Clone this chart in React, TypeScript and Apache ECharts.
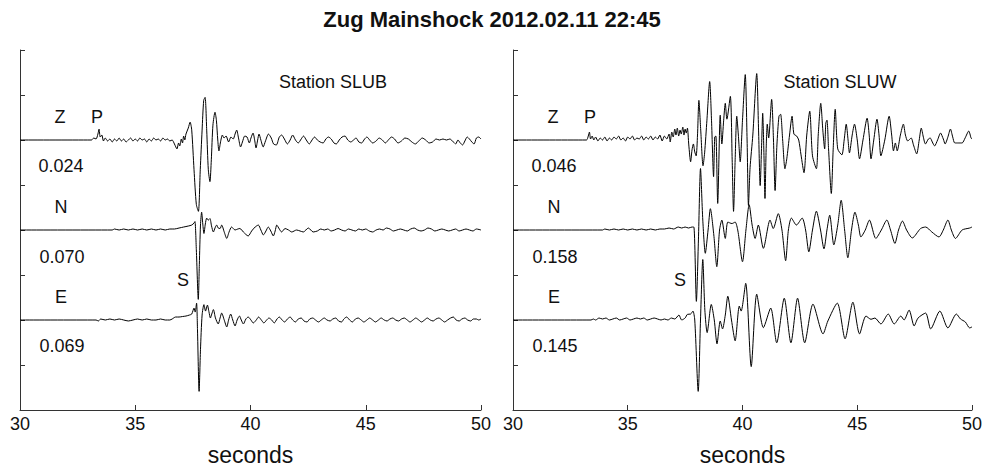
import React, { useEffect, useRef } from "react";
import * as echarts from "echarts";

// Time axis (seconds) and trace layout
const xTicks = [30, 35, 40, 45, 50];
const traceOffsets = { Z: 6, N: 4, E: 2 };
const AMP_UNIT = 45.4; // amplitude units per y tick

// Station SLUB traces: [time s, relative amplitude]
const slubZ: [number, number][] = [[30,0],[33.1,0],[33.2,2],[33.3,1],[33.38,6],[33.43,11],[33.48,3],[33.55,5],[33.62,-1],[33.7,2],[33.8,-1],[33.9,1],[34.0,-2],[34.1,1],[34.2,-1],[34.3,2],[34.4,-1],[34.5,1],[34.6,-2],[34.7,0],[34.8,2],[34.9,-1],[35.0,1],[35.1,-1],[35.2,2],[35.3,0],[35.4,1],[35.5,-2],[35.6,1],[35.7,-1],[35.8,2],[35.9,0],[36.0,1],[36.1,-1],[36.2,2],[36.3,0],[36.4,1],[36.5,-1],[36.6,0],[36.7,-4],[36.81,-9],[36.88,-3],[36.93,-6],[37.0,1],[37.05,-3],[37.1,4],[37.15,0],[37.2,6],[37.3,12],[37.38,18],[37.45,10],[37.55,-30],[37.65,-65],[37.74,-72],[37.82,-30],[37.9,10],[37.97,40],[38.03,43],[38.1,10],[38.17,-30],[38.24,-42],[38.3,-20],[38.37,15],[38.46,28],[38.52,20],[38.58,0],[38.63,-11],[38.7,-2],[38.78,5],[38.85,2],[38.94,4],[39.05,-2],[39.15,3],[39.25,1],[39.33,6],[39.4,10],[39.48,2],[39.57,-7],[39.65,-2],[39.75,4],[39.85,3],[39.95,-3],[40.02,2],[40.11,7],[40.18,0],[40.24,-8],[40.31,0],[40.37,6],[40.45,0],[40.55,-7],[40.65,-1],[40.78,6],[40.9,2],[41.0,-4],[41.12,-5],[41.25,3],[41.35,5],[41.47,1],[41.6,-4],[41.72,0],[41.83,5],[41.95,0],[42.07,-3],[42.2,1],[42.3,4],[42.42,0],[42.55,-4],[42.67,0],[42.78,3],[42.9,0],[43.02,-2],[43.15,-3],[43.27,1],[43.38,3],[43.5,1],[43.62,-3],[43.72,-4],[43.85,0],[43.97,3],[44.1,4],[44.22,0],[44.35,-2],[44.47,0],[44.58,2],[44.7,-2],[44.82,-3],[44.95,1],[45.05,3],[45.17,0],[45.3,-3],[45.45,-1],[45.58,2],[45.72,0],[45.85,-3],[45.98,0],[46.12,3],[46.25,1],[46.4,-3],[46.55,-1],[46.7,2],[46.85,1],[47.0,-2],[47.15,-4],[47.3,-1],[47.45,2],[47.6,0],[47.75,-3],[47.9,-2],[48.05,1],[48.2,0],[48.35,1],[48.5,0],[48.65,1],[48.8,-2],[48.9,-4],[49.0,0],[49.1,-3],[49.2,-5],[49.3,-1],[49.4,3],[49.5,1],[49.6,-2],[49.7,-4],[49.8,2],[49.9,3],[50,1]];

const slubN: [number, number][] = [[30,0],[34.0,0],[34.1,1],[34.3,0],[34.5,1],[34.7,0],[34.9,1],[35.1,0],[35.3,1],[35.5,0],[35.7,1],[35.9,0],[36.1,1],[36.3,0],[36.5,1],[36.7,1],[36.9,2],[37.1,3],[37.3,4],[37.45,5],[37.55,7],[37.59,8.5],[37.65,-20],[37.735,-70],[37.78,-35],[37.83,5],[37.88,18],[37.93,6],[37.98,-3.5],[38.04,6],[38.1,12],[38.17,10],[38.24,11.5],[38.31,4],[38.39,-2],[38.46,2],[38.53,5],[38.6,2],[38.68,1.5],[38.75,5],[38.86,-2],[38.97,-8.5],[39.07,-2],[39.18,3],[39.33,0],[39.45,1],[39.54,1.5],[39.62,0],[39.69,-2],[39.9,-6],[40.05,-1],[40.2,3],[40.34,5],[40.45,0],[40.56,-5],[40.67,-1],[40.77,3],[40.88,-1],[40.99,-6],[41.07,-1],[41.14,5],[41.25,1],[41.35,-2],[41.5,1.5],[41.65,0],[41.79,-2],[42.0,0],[42.15,-1],[42.29,-2],[42.51,2],[42.72,-2],[42.9,-1],[43.05,1],[43.2,0],[43.35,1],[43.5,-1],[43.65,0],[43.8,1.5],[43.95,0],[44.1,-1],[44.25,1],[44.4,0],[44.55,-1],[44.7,1],[44.85,0],[45.0,1],[45.15,-1],[45.3,-2],[45.45,0],[45.6,1],[45.75,0],[45.9,2],[46.05,1],[46.2,-1],[46.35,0],[46.5,1],[46.65,0],[46.8,-1],[46.95,1],[47.1,2],[47.25,0],[47.4,-1],[47.55,0],[47.7,2],[47.85,1],[48.0,-1],[48.15,0],[48.3,1],[48.45,0],[48.6,-1],[48.75,0],[48.9,1],[49.05,-1],[49.2,0],[49.35,1],[49.5,0],[49.65,-1],[49.8,1],[50,0]];

const slubE: [number, number][] = [[30,0],[33.3,0],[33.4,-1],[33.5,1],[33.7,0],[33.9,1],[34.1,0],[34.3,1],[34.5,0],[34.7,-1],[34.9,0],[35.1,1],[35.3,0],[35.5,1],[35.7,0],[35.9,0],[36.1,1],[36.3,0],[36.5,0],[36.6,1],[36.75,3],[36.9,3],[37.05,3.5],[37.2,4],[37.35,5],[37.45,6],[37.55,12],[37.6,8],[37.66,17],[37.7,-10],[37.77,-72],[37.83,-30],[37.9,5],[37.98,15.5],[38.05,9],[38.13,15],[38.2,8],[38.26,2],[38.32,6],[38.39,10.5],[38.48,2],[38.6,-4],[38.68,2],[38.75,7],[38.86,0],[38.97,-7],[39.05,0],[39.14,6],[39.23,0],[39.33,-6],[39.42,0],[39.52,4],[39.6,0],[39.69,-4],[39.8,1],[39.9,3],[40.02,0],[40.12,-3],[40.25,0],[40.35,3],[40.47,0],[40.58,-3],[40.7,0],[40.8,2],[40.92,0],[41.03,-3],[41.15,1],[41.25,3],[41.37,0],[41.48,-2],[41.6,1],[41.72,3],[41.83,0],[41.95,-2],[42.07,1],[42.2,2],[42.32,-1],[42.45,-2],[42.57,1],[42.7,2],[42.82,0],[42.95,-2],[43.07,0],[43.2,2],[43.32,0],[43.45,-1],[43.57,1],[43.7,2],[43.82,-1],[43.95,-2],[44.05,1],[44.17,3],[44.3,0],[44.42,-2],[44.55,1],[44.67,2],[44.8,0],[44.92,-2],[45.05,0],[45.17,2],[45.3,0],[45.42,-2],[45.55,0],[45.67,2],[45.8,0],[45.92,-1],[46.05,1],[46.17,2],[46.3,0],[46.42,-1],[46.55,1],[46.67,2],[46.8,0],[46.92,-2],[47.05,0],[47.17,2],[47.3,0],[47.42,-2],[47.55,0],[47.67,2],[47.8,0],[47.92,-1],[48.05,1],[48.17,2],[48.3,0],[48.42,-2],[48.55,0],[48.68,2],[48.8,3],[48.92,0],[49.05,-1],[49.17,1],[49.3,2],[49.42,0],[49.55,-1],[49.67,1],[49.8,1],[49.9,0],[50,1]];

// Station SLUW traces
const sluwZ: [number, number][] = [[30,0],[33.2,0],[33.28,4],[33.33,8],[33.38,1],[33.45,4],[33.52,0],[33.6,3],[33.7,-1],[33.8,2],[33.9,0],[34.0,3],[34.1,-1],[34.2,2],[34.3,0],[34.4,3],[34.5,1],[34.6,4],[34.7,0],[34.8,2],[34.9,-1],[35.0,3],[35.1,1],[35.2,4],[35.3,0],[35.4,2],[35.5,1],[35.6,4],[35.7,0],[35.8,3],[35.9,1],[36.0,4],[36.1,0],[36.2,3],[36.3,1],[36.4,5],[36.5,-1],[36.6,4],[36.7,1],[36.8,6],[36.85,-2],[36.92,8],[36.98,3],[37.05,11],[37.1,5],[37.16,12],[37.22,4],[37.28,10],[37.33,6],[37.4,13],[37.45,5],[37.5,11],[37.55,7],[37.6,12],[37.66,-5],[37.74,-22],[37.8,-10],[37.86,-4],[37.92,-12],[37.98,-16],[38.04,5],[38.1,40],[38.18,10],[38.28,-26],[38.35,-13],[38.45,20],[38.57,59],[38.65,20],[38.74,-37],[38.79,3],[38.84,4],[38.92,-64],[39.03,25],[39.1,-4],[39.18,20],[39.25,37],[39.32,21],[39.47,44],[39.55,-20],[39.61,-72],[39.68,-20],[39.75,24],[39.82,5],[39.9,-22],[40.0,20],[40.12,66],[40.2,0],[40.26,-66],[40.33,-28],[40.45,5],[40.62,67],[40.7,10],[40.77,-46],[40.84,0],[40.88,27],[40.93,-10],[40.98,-59],[41.03,-10],[41.08,16],[41.14,2],[41.27,41],[41.35,0],[41.42,-51],[41.5,-5],[41.59,24],[41.66,26],[41.75,0],[41.85,-29],[41.93,-19],[42.05,5],[42.16,24],[42.24,6],[42.36,4],[42.45,0],[42.55,-15],[42.68,-33],[42.8,5],[42.93,29],[43.05,-16],[43.22,-29],[43.3,5],[43.41,37],[43.5,10],[43.58,-9],[43.63,17],[43.68,20],[43.75,-9],[43.87,-54],[43.95,-10],[44.04,31],[44.15,-9],[44.33,-15],[44.43,0],[44.52,16],[44.6,0],[44.66,-13],[44.78,5],[44.88,16],[45.0,0],[45.1,-19],[45.25,0],[45.43,22],[45.52,5],[45.6,-19],[45.72,0],[45.86,21],[45.95,5],[46.03,-16],[46.2,0],[46.39,24],[46.5,5],[46.58,-11],[46.66,-3],[46.74,-11],[46.88,5],[47.01,16],[47.1,5],[47.2,-1],[47.35,2],[47.45,-5],[47.59,-14],[47.7,0],[47.79,12],[47.88,3],[47.97,-4],[48.1,1],[48.18,2],[48.27,-2],[48.37,-6],[48.5,0],[48.63,7],[48.75,1],[48.83,-4],[48.95,3],[49.06,11],[49.16,3],[49.25,-3],[49.4,-3],[49.57,-3],[49.7,2],[49.86,9],[49.96,2],[50,1]];

const sluwN: [number, number][] = [[30,0],[33.9,0],[34.0,1],[34.2,0],[34.4,1],[34.6,0],[34.8,1],[35.0,0],[35.2,1],[35.4,0],[35.6,1],[35.8,0],[36.0,1],[36.2,0],[36.4,1],[36.6,1],[36.8,2],[37.0,1],[37.2,3],[37.35,2],[37.5,3],[37.65,2],[37.8,3],[37.88,3],[37.99,-72],[38.08,-10],[38.17,62],[38.27,10],[38.38,-23.5],[38.5,0],[38.6,21.5],[38.75,-5],[38.88,-37],[39.0,0],[39.1,10],[39.25,-8.5],[39.36,8],[39.54,6.5],[39.68,8],[39.8,-1],[40.0,-32],[40.15,0],[40.29,25.5],[40.42,5],[40.55,-8.5],[40.69,5],[40.91,-18.5],[41.2,10],[41.34,1.5],[41.56,16.5],[41.72,0],[41.88,-31],[42.0,0],[42.13,12],[42.35,5],[42.6,12],[42.75,0],[42.89,-22],[43.05,0],[43.22,19],[43.4,0],[43.55,-19],[43.68,0],[43.8,15],[43.98,-15],[44.15,5],[44.3,30],[44.45,0],[44.59,-28],[44.75,0],[44.9,18],[45.05,5],[45.16,-7],[45.35,0],[45.53,10],[45.81,-8.5],[46.05,0],[46.29,10],[46.45,0],[46.64,-13.5],[46.8,0],[46.97,9],[47.15,0],[47.4,-8],[47.76,1.5],[47.98,3],[48.25,-2],[48.56,-7],[48.75,0],[48.95,10],[49.1,0],[49.28,-8.5],[49.57,0],[49.9,2],[50,3]];

const sluwE: [number, number][] = [[30,0],[33.4,0],[33.5,1],[33.6,0],[33.75,2],[33.9,1],[34.05,2],[34.2,0],[34.35,1],[34.5,2],[34.65,0],[34.8,1],[34.95,2],[35.1,0],[35.25,1],[35.4,2],[35.55,1],[35.7,2],[35.85,0],[36.0,1],[36.15,2],[36.3,1],[36.45,0],[36.6,1],[36.75,0],[36.9,2],[37.05,1],[37.23,5],[37.35,0],[37.5,2],[37.6,5.7],[37.74,6],[37.84,9],[37.92,0],[38.07,-72],[38.17,0],[38.27,61],[38.36,10],[38.46,-12.7],[38.64,15.7],[38.77,0],[38.89,-24],[39.03,-1],[39.13,-9],[39.25,5],[39.36,24],[39.52,0],[39.68,-21],[39.86,14],[39.94,9],[40.14,37],[40.38,-47],[40.62,26],[40.91,-7.7],[41.23,12],[41.49,-23],[41.82,22],[42.11,-23],[42.4,22],[42.71,-23],[43.07,16],[43.51,-14],[43.72,-1],[44.13,17],[44.47,-19],[44.81,18],[45.1,-14],[45.38,4],[45.6,0.7],[45.77,2],[46.03,-4],[46.35,6],[46.61,-4],[46.9,4],[47.04,0],[47.26,10],[47.48,-6],[47.65,2],[47.98,7],[48.2,-9],[48.6,9],[48.95,-8],[49.32,6],[49.5,1],[49.71,-2],[49.9,-8],[50,-7]];

// Annotations
const titleText = "Zug Mainshock 2012.02.11 22:45";
const stationNames = ["Station SLUB", "Station SLUW"];
const peakValues = [["0.024", "0.070", "0.069"], ["0.046", "0.158", "0.145"]];
const axisName = "seconds";

const FONT = "'Liberation Sans', Arial, Helvetica, sans-serif";

export default function App() {
  const ref = useRef<HTMLDivElement>(null);
  useEffect(() => {
    document.body.style.margin = "0";
    if (!ref.current) return;
    const chart = echarts.init(ref.current, null, { renderer: "svg" });
    const toSeries = (d: [number, number][], off: number) =>
      d.map(([t, a]) => [t, off + a / AMP_UNIT]);

    const xAxisBase = (gridIndex: number) => ({
      type: "value" as const,
      gridIndex,
      min: xTicks[0],
      max: xTicks[xTicks.length - 1],
      interval: 5,
      name: axisName,
      nameLocation: "middle" as const,
      nameGap: 33,
      nameTextStyle: { fontFamily: FONT, fontSize: 23, color: "#111" },
      axisLine: { show: true, lineStyle: { color: "#333", width: 1 } },
      axisTick: { show: true, inside: true, length: 5, lineStyle: { color: "#333" } },
      axisLabel: { fontFamily: FONT, fontSize: 18, color: "#111", margin: 5 },
      splitLine: { show: false },
    });
    const yAxisBase = (gridIndex: number) => ({
      type: "value" as const,
      gridIndex,
      min: 0,
      max: 8,
      interval: 1,
      axisLine: { show: true, lineStyle: { color: "#333", width: 1 } },
      axisTick: { show: true, inside: true, length: 5, lineStyle: { color: "#333" } },
      axisLabel: { show: false },
      splitLine: { show: false },
    });

    const traces = [
      { d: slubZ, off: traceOffsets.Z, g: 0 },
      { d: slubN, off: traceOffsets.N, g: 0 },
      { d: slubE, off: traceOffsets.E, g: 0 },
      { d: sluwZ, off: traceOffsets.Z, g: 1 },
      { d: sluwN, off: traceOffsets.N, g: 1 },
      { d: sluwE, off: traceOffsets.E, g: 1 },
    ];

    const txt = (x: number, y: number, s: string, size = 18, weight: any = "normal") => ({
      type: "text",
      x,
      y,
      style: {
        text: s,
        fontFamily: FONT,
        fontSize: size,
        fontWeight: weight,
        fill: "#111",
        textAlign: "center",
        textVerticalAlign: "middle",
      },
    });

    const labelsFor = (ox: number, i: number, sX: number) => [
      txt(ox + 40, 117, "Z"),
      txt(ox + 77, 117, "P"),
      txt(ox + 41, 166, peakValues[i][0]),
      txt(ox + 41, 207, "N"),
      txt(ox + 42, 257, peakValues[i][1]),
      txt(ox + sX, 280, "S"),
      txt(ox + 41, 297, "E"),
      txt(ox + 42, 346, peakValues[i][2]),
    ];

    chart.setOption({
      animation: false,
      grid: [
        { left: 20, right: 504, top: 50, bottom: 58 },
        { left: 513, right: 10, top: 50, bottom: 58 },
      ],
      xAxis: [xAxisBase(0), xAxisBase(1)],
      yAxis: [yAxisBase(0), yAxisBase(1)],
      series: traces.map((tr) => ({
        type: "line",
        xAxisIndex: tr.g,
        yAxisIndex: tr.g,
        data: toSeries(tr.d, tr.off),
        showSymbol: false,
        smooth: 0.25,
        lineStyle: { color: "#000", width: 1 },
        silent: true,
      })),
      graphic: [
        txt(492, 19, titleText, 22, "bold"),
        txt(333, 82, stationNames[0], 18),
        txt(840, 82, stationNames[1], 18),
        ...labelsFor(20, 0, 163),
        ...labelsFor(513, 1, 167),
      ],
    });
    return () => chart.dispose();
  }, []);
  return <div ref={ref} style={{ width: 985, height: 471 }} />;
}
